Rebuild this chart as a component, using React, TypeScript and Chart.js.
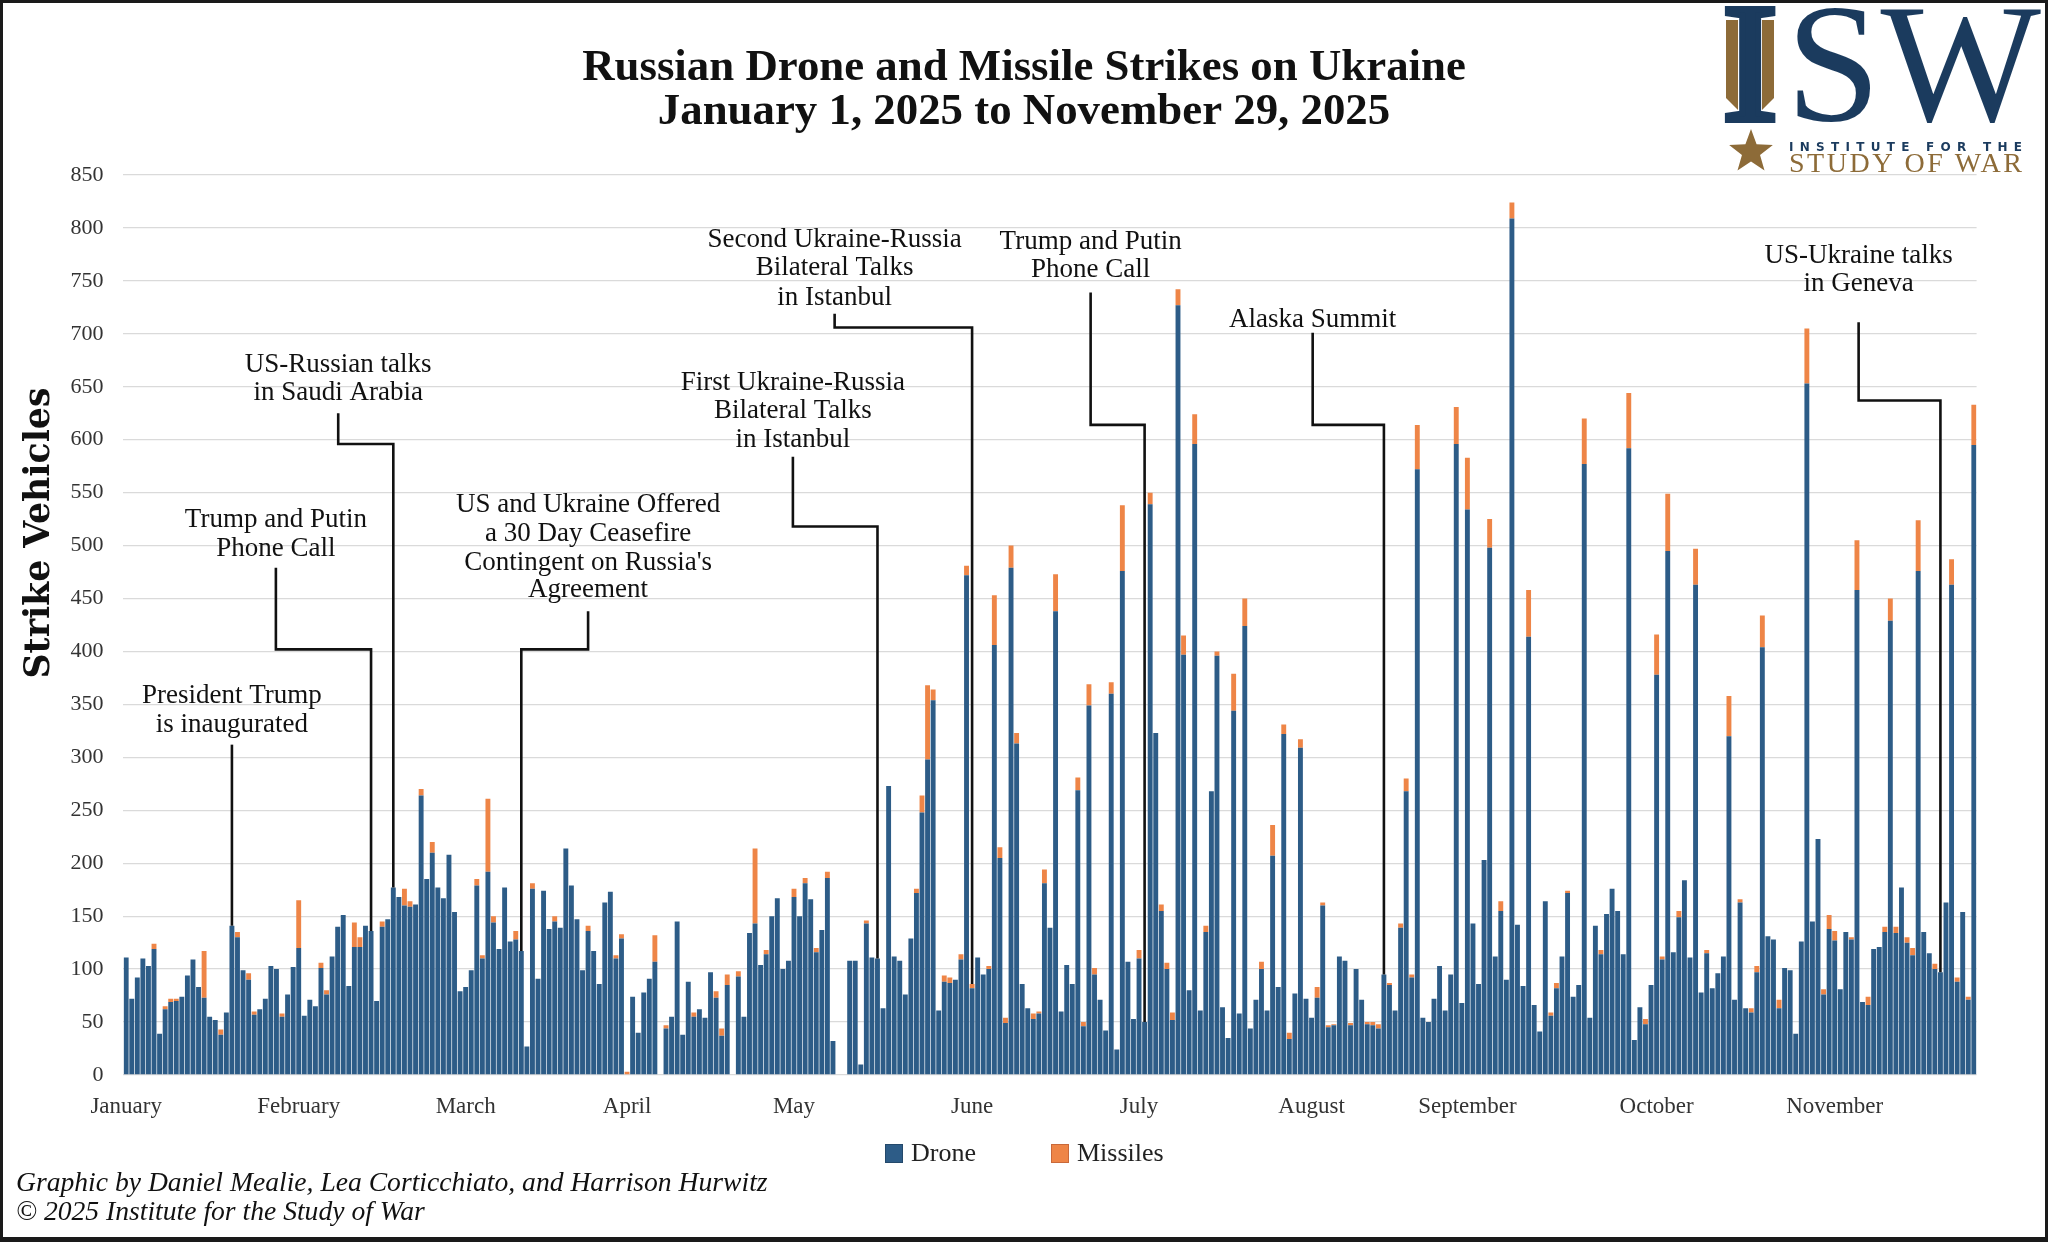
import { useEffect, useRef } from 'react';
import { Chart, registerables } from 'chart.js';

Chart.register(...registerables);

// ---------- DATA ----------
const MONTH_NAMES = ['January', 'February', 'March', 'April', 'May', 'June', 'July', 'August', 'September', 'October', 'November'];
const MONTH_DAYS = [31, 28, 31, 30, 31, 30, 31, 31, 30, 31, 29];
// day index under which each month label is printed in the original graphic
const MONTH_LABEL_AT = [0, 31, 61, 90, 120, 152, 182, 213, 241, 275, 307];

const DRONE = [
  // Jan
  111, 72, 92, 110, 103, 119, 39, 62, 69, 70, 74, 94, 109, 83, 73, 55, 52, 38, 59, 141, 130, 99, 90, 57, 62, 72, 103, 100, 55, 76, 102,
  // Feb
  120, 56, 71, 65, 101, 76, 112, 140, 151, 84, 121, 121, 141, 136, 70, 140, 147, 177, 168, 160, 159, 161, 264, 185, 210, 177, 167, 208,
  // Mar
  154, 79, 83, 99, 179, 110, 192, 144, 119, 177, 126, 128, 117, 27, 176, 91, 174, 138, 145, 139, 214, 179, 147, 99, 136, 117, 86, 163, 173, 110, 129,
  // Apr
  0, 74, 40, 78, 91, 107, 0, 44, 55, 145, 38, 88, 55, 62, 54, 97, 73, 37, 85, 0, 93, 55, 134, 143, 104, 114, 150, 167, 100, 108,
  // May
  168, 150, 181, 166, 116, 137, 186, 32, 0, 0, 108, 108, 10, 143, 111, 110, 63, 273, 112, 108, 76, 129, 172, 248, 298, 354, 61, 88, 87, 90, 109,
  // Jun
  472, 82, 111, 95, 100, 406, 205, 49, 479, 313, 86, 63, 53, 58, 181, 139, 438, 60, 104, 86, 269, 46, 349, 95, 71, 42, 360, 24, 476, 107,
  // Jul
  53, 110, 50, 539, 323, 155, 100, 52, 727, 397, 80, 596, 61, 135, 268, 396, 64, 35, 344, 58, 424, 44, 71, 100, 61, 207, 83, 322, 34, 77, 309,
  // Aug
  72, 54, 73, 160, 45, 47, 112, 108, 47, 100, 71, 48, 47, 44, 95, 85, 61, 139, 268, 92, 572, 54, 50, 72, 103, 61, 95, 596, 68, 534, 143,
  // Sep
  86, 203, 498, 112, 155, 90, 809, 142, 84, 414, 66, 41, 164, 56, 82, 112, 172, 74, 85, 577, 54, 141, 114, 152, 176, 155, 114, 592, 33, 64,
  // Oct
  48, 85, 378, 109, 495, 116, 149, 184, 111, 463, 78, 115, 82, 96, 112, 320, 71, 163, 63, 59, 97, 404, 131, 128, 63, 101, 99, 39, 126, 653, 145,
  // Nov
  223, 76, 138, 127, 81, 135, 128, 458, 69, 66, 119, 121, 135, 429, 134, 177, 125, 113, 476, 135, 115, 100, 97, 163, 463, 88, 154, 71, 595,
];

const MISSILES = [
  // Jan
  0, 0, 0, 0, 0, 5, 0, 3, 3, 2, 0, 0, 0, 0, 44, 0, 0, 5, 0, 0, 5, 0, 6, 3, 0, 0, 0, 0, 3, 0, 0,
  // Feb
  45, 0, 0, 0, 5, 4, 0, 0, 0, 0, 23, 9, 0, 0, 0, 5, 0, 0, 0, 16, 5, 0, 6, 0, 10, 0, 0, 0,
  // Mar
  0, 0, 0, 0, 6, 3, 69, 6, 0, 0, 0, 8, 0, 0, 5, 0, 0, 0, 5, 0, 0, 0, 0, 0, 5, 0, 0, 0, 0, 3, 4,
  // Apr
  3, 0, 0, 0, 0, 25, 0, 3, 0, 0, 0, 0, 4, 0, 0, 0, 6, 7, 10, 0, 5, 0, 0, 71, 0, 4, 0, 0, 0, 0,
  // May
  8, 0, 5, 0, 4, 0, 6, 0, 0, 0, 0, 0, 0, 3, 0, 0, 0, 0, 0, 0, 0, 0, 4, 16, 70, 10, 0, 6, 5, 0, 5,
  // Jun
  9, 4, 0, 0, 3, 47, 10, 5, 21, 10, 0, 0, 5, 2, 13, 0, 35, 0, 0, 0, 12, 4, 20, 6, 0, 0, 11, 0, 62, 0,
  // Jul
  0, 8, 0, 11, 0, 6, 6, 7, 15, 18, 0, 28, 0, 6, 0, 4, 0, 0, 35, 0, 26, 0, 0, 7, 0, 29, 0, 9, 6, 0, 8,
  // Aug
  0, 0, 10, 3, 2, 1, 0, 0, 2, 0, 0, 2, 3, 4, 0, 2, 0, 4, 12, 3, 42, 0, 0, 0, 0, 0, 0, 35, 0, 49, 0,
  // Sep
  0, 0, 27, 0, 9, 0, 15, 0, 0, 44, 0, 0, 0, 3, 5, 0, 2, 0, 0, 43, 0, 0, 4, 0, 0, 0, 0, 52, 0, 0,
  // Oct
  5, 0, 38, 3, 54, 0, 6, 0, 0, 34, 0, 3, 0, 0, 0, 38, 0, 3, 0, 4, 6, 30, 0, 0, 8, 0, 0, 0, 0, 52, 0,
  // Nov
  0, 5, 13, 9, 0, 0, 2, 47, 0, 8, 0, 0, 5, 21, 6, 0, 5, 7, 48, 0, 0, 5, 0, 0, 24, 4, 0, 3, 38,
];

const Y_MAX = 850;
const Y_STEP = 50;

const TITLE_LINES = ['Russian Drone and Missile Strikes on Ukraine', 'January 1, 2025 to November 29, 2025'];
const Y_TITLE = 'Strike Vehicles';
const FOOTER_LINES = ['Graphic by Daniel Mealie, Lea Corticchiato, and Harrison Hurwitz', '\u00A9 2025 Institute for the Study of War'];
const SERIES_NAMES = ['Drone', 'Missiles'];

// Event call-outs: text centre (day index), text line values, line start / elbow value, target day index
const ANNOTATIONS = [
  { lines: ['President Trump', 'is inaugurated'], at: 19, values: [358, 331], start: 312, elbow: null as number | null, target: 19 },
  { lines: ['Trump and Putin', 'Phone Call'], at: 26.9, values: [524, 497], start: 479, elbow: 402, target: 44 },
  { lines: ['US-Russian talks', 'in Saudi Arabia'], at: 38.1, values: [671, 644], start: 625, elbow: 596, target: 48 },
  { lines: ['US and Ukraine Offered', 'a 30 Day Ceasefire', "Contingent on Russia's", 'Agreement'], at: 83.0, values: [538, 511, 484, 458], start: 438, elbow: 402, target: 71 },
  { lines: ['First Ukraine-Russia', 'Bilateral Talks', 'in Istanbul'], at: 119.8, values: [654, 627, 600], start: 584, elbow: 518, target: 135 },
  { lines: ['Second Ukraine-Russia', 'Bilateral Talks', 'in Istanbul'], at: 127.3, values: [789, 762, 734], start: 719, elbow: 706, target: 152 },
  { lines: ['Trump and Putin', 'Phone Call'], at: 173.3, values: [787, 760], start: 739, elbow: 614, target: 183 },
  { lines: ['Alaska Summit'], at: 213.2, values: [713], start: 701, elbow: 614, target: 226 },
  { lines: ['US-Ukraine talks', 'in Geneva'], at: 311.3, values: [774, 747], start: 711, elbow: 637, target: 326 },
];

// ---------- derived ----------
const CATEGORIES: string[] = [];
MONTH_NAMES.forEach((m, mi) => {
  for (let d = 1; d <= MONTH_DAYS[mi]; d++) CATEGORIES.push(`${m.slice(0, 3)} ${d}`);
});
const TICK_LABELS = new Map<number, string>();
MONTH_LABEL_AT.forEach((idx, mi) => TICK_LABELS.set(idx, MONTH_NAMES[mi]));

// ---------- styles ----------
const DRONE_COLOR = '#2d5c87';
const MISSILE_COLOR = '#ee8547';
const NAVY = '#1b3b5e';
const GOLD = '#8d6b38';
const SERIF = '"Liberation Serif", serif';

function fitSize(ctx: CanvasRenderingContext2D, text: string, width: number, style: string, family: string) {
  ctx.font = `${style} 100px ${family}`;
  const w = ctx.measureText(text).width;
  return (100 * width) / w;
}

function spacedText(ctx: CanvasRenderingContext2D, text: string, x: number, y: number, width: number) {
  const c: any = ctx;
  c.letterSpacing = '0px';
  const w0 = ctx.measureText(text).width;
  const sp = (width - w0) / (text.length - 1);
  c.letterSpacing = `${sp}px`;
  ctx.fillText(text, x, y);
  c.letterSpacing = '0px';
}

const decorPlugin = {
  id: 'decor',
  afterDraw(chart: any) {
    const { ctx, scales } = chart;
    const x = scales.x;
    const y = scales.y;
    ctx.save();

    // title
    ctx.fillStyle = '#111';
    ctx.textAlign = 'center';
    ctx.textBaseline = 'middle';
    const ts = fitSize(ctx, TITLE_LINES[0], 884, 'bold', SERIF);
    ctx.font = `bold ${ts}px ${SERIF}`;
    ctx.fillText(TITLE_LINES[0], 1024, 68);
    ctx.fillText(TITLE_LINES[1], 1024, 112);

    // y-axis title
    const ys = fitSize(ctx, Y_TITLE, 291, 'bold', '"DejaVu Serif", serif');
    ctx.save();
    ctx.translate(40, 533);
    ctx.rotate(-Math.PI / 2);
    ctx.font = `bold ${ys}px "DejaVu Serif", serif`;
    ctx.fillStyle = '#111';
    ctx.fillText(Y_TITLE, 0, 0);
    ctx.restore();

    // annotations
    ctx.font = `27px ${SERIF}`;
    ctx.fillStyle = '#111';
    ctx.strokeStyle = '#111';
    ctx.lineWidth = 2.6;
    ctx.lineJoin = 'miter';
    ANNOTATIONS.forEach((a) => {
      const tx = x.getPixelForValue(a.at);
      a.lines.forEach((l, i) => ctx.fillText(l, tx, y.getPixelForValue(a.values[i])));
      const total = DRONE[a.target] + MISSILES[a.target];
      const pts: [number, number][] = [];
      if (a.elbow == null) {
        pts.push([a.target, a.start], [a.target, total]);
      } else {
        pts.push([a.at, a.start], [a.at, a.elbow], [a.target, a.elbow], [a.target, total]);
      }
      ctx.beginPath();
      pts.forEach(([k, v], i) => {
        const px = x.getPixelForValue(k);
        const py = y.getPixelForValue(v);
        if (i === 0) ctx.moveTo(px, py);
        else ctx.lineTo(px, py);
      });
      ctx.stroke();
    });

    // legend
    ctx.textAlign = 'left';
    ctx.font = `26px ${SERIF}`;
    const legend = [
      { name: SERIES_NAMES[0], color: DRONE_COLOR, border: '#24496b', x: 885 },
      { name: SERIES_NAMES[1], color: MISSILE_COLOR, border: '#c9693a', x: 1051 },
    ];
    legend.forEach((l) => {
      ctx.fillStyle = l.color;
      ctx.fillRect(l.x, 1144, 18, 19);
      ctx.strokeStyle = l.border;
      ctx.lineWidth = 1;
      ctx.strokeRect(l.x + 0.5, 1144.5, 17, 18);
      ctx.fillStyle = '#222';
      ctx.fillText(l.name, l.x + 26, 1154);
    });

    // footer
    const fs = fitSize(ctx, FOOTER_LINES[0], 752, 'italic', SERIF);
    ctx.font = `italic ${fs}px ${SERIF}`;
    ctx.fillStyle = '#111';
    ctx.fillText(FOOTER_LINES[0], 16, 1184);
    ctx.fillText(FOOTER_LINES[1], 16, 1213);

    // ISW logo
    ctx.textBaseline = 'alphabetic';
    ctx.font = `170px ${SERIF}`;
    ctx.fillStyle = NAVY;
    ctx.strokeStyle = NAVY;
    ctx.textAlign = 'center';
    ctx.lineWidth = 6;
    ctx.fillText('I', 1750, 120);
    ctx.strokeText('I', 1750, 120);
    ctx.fillStyle = GOLD;
    ctx.beginPath();
    ctx.moveTo(1726, 20); ctx.lineTo(1738, 20); ctx.lineTo(1738, 110); ctx.lineTo(1726, 98); ctx.closePath();
    ctx.fill();
    ctx.beginPath();
    ctx.moveTo(1762, 20); ctx.lineTo(1774, 20); ctx.lineTo(1774, 98); ctx.lineTo(1762, 110); ctx.closePath();
    ctx.fill();
    ctx.fillStyle = NAVY;
    ctx.textAlign = 'left';
    ctx.fillText('SW', 1786, 120);

    // star
    ctx.fillStyle = GOLD;
    ctx.beginPath();
    for (let i = 0; i < 10; i++) {
      const r = i % 2 === 0 ? 23 : 9.5;
      const ang = -Math.PI / 2 + (i * Math.PI) / 5;
      const px = 1751 + r * Math.cos(ang);
      const py = 152 + r * Math.sin(ang);
      if (i === 0) ctx.moveTo(px, py);
      else ctx.lineTo(px, py);
    }
    ctx.closePath();
    ctx.fill();

    ctx.textBaseline = 'middle';
    ctx.font = 'bold 12px "DejaVu Sans", sans-serif';
    ctx.fillStyle = NAVY;
    spacedText(ctx, 'INSTITUTE FOR THE', 1789, 148, 233);
    ctx.font = `28px ${SERIF}`;
    ctx.fillStyle = GOLD;
    spacedText(ctx, 'STUDY OF WAR', 1789, 165, 233);

    // frame
    ctx.strokeStyle = '#1a1a1a';
    ctx.lineWidth = 3;
    ctx.strokeRect(1.5, 1.5, 2045, 1239);
    ctx.fillStyle = '#1a1a1a';
    ctx.fillRect(0, 1237, 2048, 5);

    ctx.restore();
  },
};

export default function App() {
  const ref = useRef<HTMLCanvasElement>(null);

  useEffect(() => {
    if (!ref.current) return;
    const chart = new Chart(ref.current, {
      type: 'bar',
      data: {
        labels: CATEGORIES,
        datasets: [
          { label: SERIES_NAMES[0], data: DRONE, backgroundColor: DRONE_COLOR, stack: 's', barPercentage: 0.88, categoryPercentage: 1 },
          { label: SERIES_NAMES[1], data: MISSILES, backgroundColor: MISSILE_COLOR, stack: 's', barPercentage: 0.88, categoryPercentage: 1 },
        ],
      },
      options: {
        animation: false,
        responsive: true,
        maintainAspectRatio: false,
        devicePixelRatio: 1,
        layout: { padding: { top: 175, right: 71.4, bottom: 0, left: 0 } },
        plugins: {
          legend: { display: false },
          title: { display: false },
          tooltip: { enabled: false },
        },
        scales: {
          x: {
            stacked: true,
            grid: { display: false, drawTicks: false },
            border: { display: false },
            ticks: {
              autoSkip: false,
              maxRotation: 0,
              minRotation: 0,
              padding: 18,
              color: '#333',
              font: { family: SERIF, size: 23 },
              callback: (_v: any, idx: number) => TICK_LABELS.get(idx) ?? '',
            },
            afterFit: (scale: any) => {
              scale.height = 167;
            },
          },
          y: {
            stacked: true,
            min: 0,
            max: Y_MAX,
            grid: { color: '#dadada', lineWidth: 1.3, drawTicks: false },
            border: { display: false },
            ticks: {
              stepSize: Y_STEP,
              padding: 20,
              color: '#333',
              font: { family: SERIF, size: 22 },
            },
            afterFit: (scale: any) => {
              scale.width = 123.4;
            },
          },
        },
      },
      plugins: [decorPlugin],
    } as any);
    return () => chart.destroy();
  }, []);

  return (
    <div style={{ position: 'fixed', left: 0, top: 0, width: 2048, height: 1242, background: '#fff' }}>
      <canvas ref={ref} />
    </div>
  );
}
